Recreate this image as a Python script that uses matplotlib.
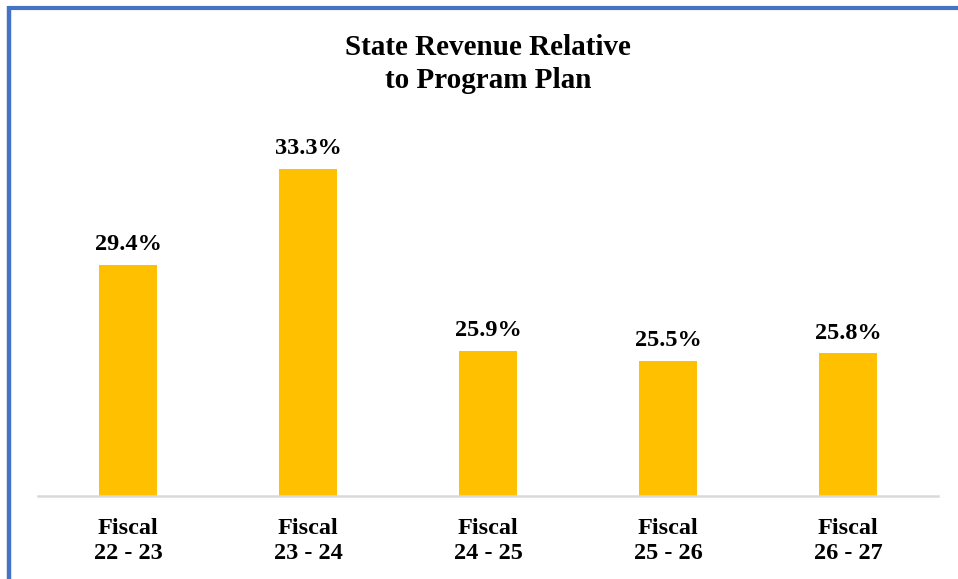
import matplotlib
matplotlib.use("Agg")
import matplotlib.pyplot as plt
from matplotlib.lines import Line2D

categories = ["Fiscal\n22 - 23", "Fiscal\n23 - 24", "Fiscal\n24 - 25", "Fiscal\n25 - 26", "Fiscal\n26 - 27"]
values = [29.4, 33.3, 25.9, 25.5, 25.8]
labels = ["29.4%", "33.3%", "25.9%", "25.5%", "25.8%"]

plt.rcParams["font.family"] = ["Liberation Serif", "DejaVu Serif"]

W, H = 958, 579
fig = plt.figure(figsize=(W / 100, H / 100), dpi=100)
fig.patch.set_facecolor("white")

# plot area in pixel terms
left, right, bottom, top = 38, 938, 496, 127
ax = fig.add_axes([left / W, 1 - bottom / H, (right - left) / W, (bottom - top) / H])

x = range(len(categories))
ax.bar(x, values, width=0.317, color="#FFC000", zorder=2)
ax.set_xlim(-0.5, len(categories) - 0.5)
ax.set_ylim(20, 35)

for xi, v, lab in zip(x, values, labels):
    ax.annotate(lab, (xi, v), xytext=(0, 7), textcoords="offset points",
                ha="center", va="bottom", fontsize=17.5, fontweight="bold")

ax.set_xticks(list(x))
ax.set_xticklabels(categories, fontsize=17.5, fontweight="bold", linespacing=1.25)
ax.tick_params(axis="x", length=0, pad=15.5)
ax.set_yticks([])
for s in ["top", "right", "left"]:
    ax.spines[s].set_visible(False)
ax.spines["bottom"].set_color("#d9d9d9")
ax.spines["bottom"].set_linewidth(1.8)

fig.text(488 / W, 1 - 64 / H, "State Revenue Relative\nto Program Plan",
         ha="center", va="center", fontsize=21, fontweight="bold", linespacing=1.3)

# blue frame along top and left edges
blue = "#4472C4"
fig.add_artist(Line2D([7.5 / W, 1.0], [1 - 7.5 / H, 1 - 7.5 / H], transform=fig.transFigure,
                      color=blue, linewidth=3.0, solid_capstyle="butt"))
fig.add_artist(Line2D([9 / W, 9 / W], [0, 1 - 6 / H], transform=fig.transFigure,
                      color=blue, linewidth=3.2, solid_capstyle="butt"))

fig.savefig("out.png", dpi=100, facecolor="white")
